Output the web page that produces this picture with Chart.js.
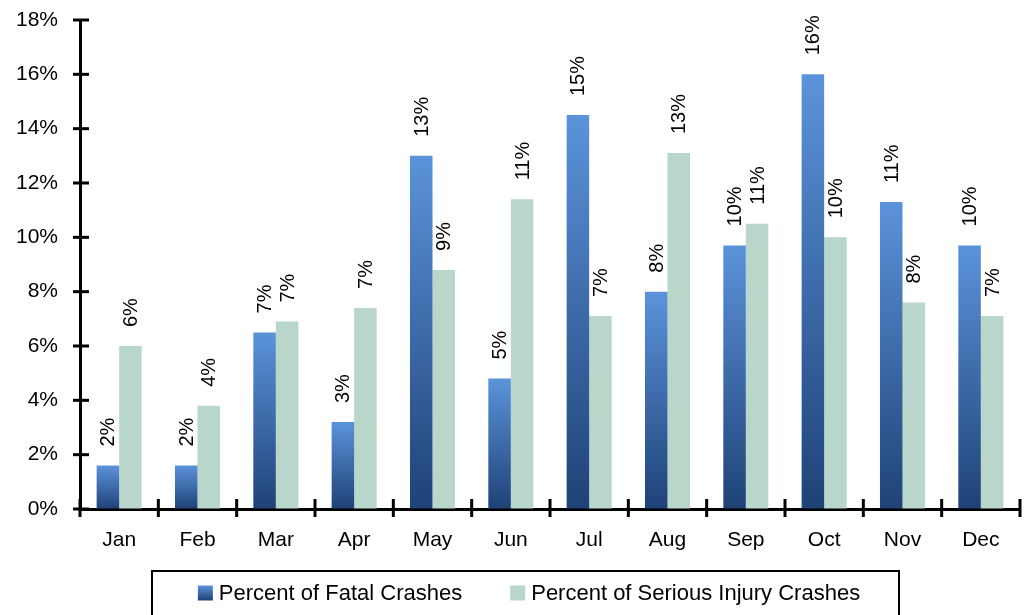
<!DOCTYPE html>
<html>
<head>
<meta charset="utf-8">
<script src="https://cdn.jsdelivr.net/npm/chart.js@4.4.1/dist/chart.umd.min.js"></script>
<style>
  html, body { margin: 0; padding: 0; background: #fff; overflow: hidden; }
  #wrap { width: 1024px; height: 615px; }
</style>
</head>
<body>
<div id="wrap"><canvas id="c" width="1024" height="615"></canvas></div>
<script>
const months = ["Jan","Feb","Mar","Apr","May","Jun","Jul","Aug","Sep","Oct","Nov","Dec"];
const fatalPct = [1.6, 1.6, 6.5, 3.2, 13.0, 4.8, 14.5, 8.0, 9.7, 16.0, 11.3, 9.7];
const seriousPct = [6.0, 3.8, 6.9, 7.4, 8.8, 11.4, 7.1, 13.1, 10.5, 10.0, 7.6, 7.1];
const fatalLabels = ["2%","2%","7%","3%","13%","5%","15%","8%","10%","16%","11%","10%"];
const seriousLabels = ["6%","4%","7%","7%","9%","11%","7%","13%","11%","10%","8%","7%"];
const seriesNames = ["Percent of Fatal Crashes", "Percent of Serious Injury Crashes"];
const yTicks = [0, 2, 4, 6, 8, 10, 12, 14, 16, 18];

const FONT = '"Liberation Sans", Arial, sans-serif';
const TEXT = '#000';
const BLUE_TOP = '#5b93da';
const BLUE_BOT = '#1f4277';
const GREEN = '#b9d6ca';

function blueGradient(ctx2d, yTop, yBot) {
  const g = ctx2d.createLinearGradient(0, yTop, 0, yBot);
  g.addColorStop(0, BLUE_TOP);
  g.addColorStop(1, BLUE_BOT);
  return g;
}

const crossTicks = {
  id: 'crossTicks',
  afterDraw(chart) {
    const ctx = chart.ctx;
    const xs = chart.scales.x, ys = chart.scales.y;
    ctx.save();
    ctx.strokeStyle = '#000';
    ctx.lineWidth = 3;
    yTicks.forEach(v => {
      const y = ys.getPixelForValue(v);
      ctx.beginPath(); ctx.moveTo(ys.right - 7, y); ctx.lineTo(ys.right + 9, y); ctx.stroke();
    });
    const n = months.length;
    const w = (xs.right - xs.left) / n;
    for (let i = 0; i <= n; i++) {
      const x = xs.left + i * w;
      ctx.beginPath(); ctx.moveTo(x, xs.top - 10); ctx.lineTo(x, xs.top + 8); ctx.stroke();
    }
    ctx.restore();
  }
};

const barLabels = {
  id: 'barLabels',
  afterDatasetsDraw(chart) {
    const ctx = chart.ctx;
    const sets = [fatalLabels, seriousLabels];
    ctx.save();
    ctx.fillStyle = TEXT;
    ctx.font = '20px ' + FONT;
    ctx.textAlign = 'left';
    ctx.textBaseline = 'middle';
    sets.forEach((labels, di) => {
      const meta = chart.getDatasetMeta(di);
      meta.data.forEach((bar, i) => {
        ctx.save();
        ctx.translate(bar.x, bar.y - 19);
        ctx.rotate(-Math.PI / 2);
        ctx.fillText(labels[i], 0, 1);
        ctx.restore();
      });
    });
    ctx.restore();
  }
};

const boxLegend = {
  id: 'boxLegend',
  afterDraw(chart) {
    const ctx = chart.ctx;
    ctx.save();
    ctx.strokeStyle = '#000';
    ctx.lineWidth = 2;
    ctx.strokeRect(152, 571, 747, 60);
    ctx.font = '22px ' + FONT;
    ctx.textBaseline = 'middle';
    ctx.textAlign = 'left';
    const cy = 593;
    const box = 15;
    const gapText = 6;
    const gapItem = 48;
    const w0 = box + gapText + ctx.measureText(seriesNames[0]).width;
    const w1 = box + gapText + ctx.measureText(seriesNames[1]).width;
    let x = 529 - (w0 + gapItem + w1) / 2;
    ctx.fillStyle = blueGradient(ctx, cy - box / 2, cy + box / 2);
    ctx.fillRect(x, cy - box / 2, box, box);
    ctx.fillStyle = TEXT;
    ctx.fillText(seriesNames[0], x + box + gapText, cy + 1);
    x += w0 + gapItem;
    ctx.fillStyle = GREEN;
    ctx.fillRect(x, cy - box / 2, box, box);
    ctx.fillStyle = TEXT;
    ctx.fillText(seriesNames[1], x + box + gapText, cy + 1);
    ctx.restore();
  }
};

new Chart(document.getElementById('c'), {
  type: 'bar',
  data: {
    labels: months,
    datasets: [
      {
        label: seriesNames[0],
        data: fatalPct,
        backgroundColor: (c) => {
          const chart = c.chart;
          if (!chart.chartArea || !chart.scales.y) return BLUE_TOP;
          const ys = chart.scales.y;
          const v = c.raw == null ? 0 : c.raw;
          return blueGradient(chart.ctx, ys.getPixelForValue(v), ys.getPixelForValue(0));
        },
        borderWidth: 0,
        categoryPercentage: 0.575,
        barPercentage: 1.0
      },
      {
        label: seriesNames[1],
        data: seriousPct,
        backgroundColor: GREEN,
        borderWidth: 0,
        categoryPercentage: 0.575,
        barPercentage: 1.0
      }
    ]
  },
  options: {
    responsive: false,
    animation: false,
    layout: { padding: { top: 20, right: 4, bottom: 56, left: 0 } },
    plugins: {
      legend: { display: false },
      tooltip: { enabled: false }
    },
    scales: {
      x: {
        grid: { display: true, drawOnChartArea: false, drawTicks: false },
        border: { display: true, color: '#000', width: 3 },
        ticks: { color: TEXT, font: { family: FONT, size: 21 }, padding: 19 },
        afterFit: (s) => { s.height = 50; s.paddingLeft = 0; s.paddingRight = 0; }
      },
      y: {
        min: 0, max: 18,
        grid: { display: true, drawOnChartArea: false, drawTicks: false },
        border: { display: true, color: '#000', width: 3 },
        ticks: {
          stepSize: 2,
          color: TEXT,
          font: { family: FONT, size: 21 },
          padding: 22,
          callback: (v) => v + '%'
        },
        afterFit: (s) => { s.width = 80; s.paddingTop = 0; s.paddingBottom = 0; }
      }
    }
  },
  plugins: [crossTicks, barLabels, boxLegend]
});
</script>
</body>
</html>
